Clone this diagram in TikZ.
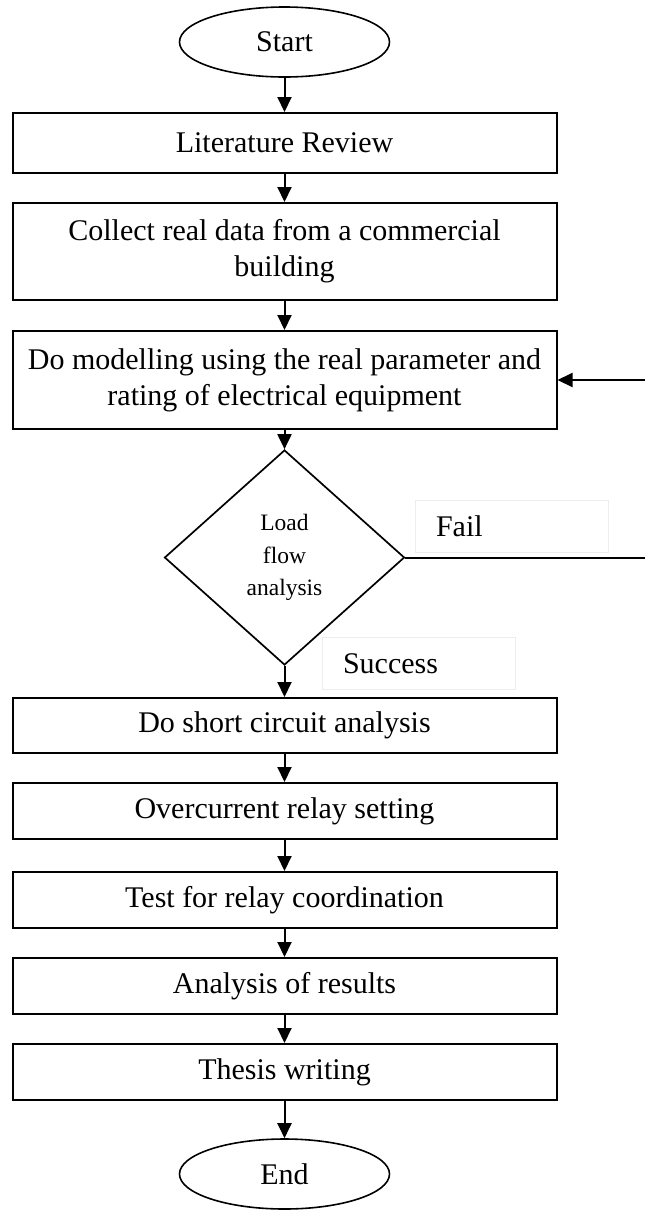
\documentclass[tikz,border=0pt]{standalone}
\usepackage{fontspec}
\setmainfont{Liberation Serif}
\usetikzlibrary{shapes.geometric,arrows.meta}

\tikzset{
  base/.style={draw=black, line width=2pt, inner sep=0pt, align=center,
    font=\fontsize{30}{36}\selectfont},
  terminal/.style={base, ellipse, line width=1.6pt, minimum width=210pt, minimum height=70pt},
  process/.style={base, rectangle, minimum width=544pt},
  decision/.style={base, diamond, line width=1.7pt, minimum width=240pt, minimum height=215pt,
    font=\fontsize{23.5}{32.5}\selectfont},
  tag/.style={draw=black!7, line width=0.8pt, rectangle, minimum width=193pt,
    minimum height=52pt, text width=151pt, inner xsep=21pt, inner ysep=0pt, align=left,
    font=\fontsize{30}{36}\selectfont},
  flow/.style={line width=2pt, -{Triangle[length=15pt,width=14pt]}},
  link/.style={line width=2pt}
}

\begin{document}
\begin{tikzpicture}[x=1pt,y=-1pt]
  \useasboundingbox (0,0) rectangle (645,1211);

  % main column
  \node[terminal] (start) at (284.5,42) {Start};
  \node[process, minimum height=60pt] (lit) at (284.5,143) {Literature Review};
  \node[process, minimum height=97pt] (data) at (284.5,251.5)
    {Collect real data from a commercial\\building};
  \node[process, minimum height=98pt] (model) at (284.5,380)
    {Do modelling using the real parameter and\\rating of electrical equipment};
  \node[decision] (lf) at (284.5,557.5) {Load\\flow\\analysis};
  \node[process, minimum height=55pt] (sc) at (284.5,725.5) {Do short circuit analysis};
  \node[process, minimum height=56pt] (oc) at (284.5,811) {Overcurrent relay setting};
  \node[process, minimum height=56pt] (coord) at (284.5,900) {Test for relay coordination};
  \node[process, minimum height=56pt] (res) at (284.5,986) {Analysis of results};
  \node[process, minimum height=56pt] (thesis) at (284.5,1072) {Thesis writing};
  \node[terminal] (end) at (284.5,1174) {End};

  % branch labels
  \node[tag] (fail) at (511.5,526) {Fail};
  \node[tag] (ok) at (418.5,663.5) {Success};

  % free ends of the loop back at the right edge
  \coordinate (failend) at (645,557.5);
  \coordinate (loopin) at (645,380);

  % connectors
  \draw[flow] (start) -- (lit);
  \draw[flow] (lit) -- (data);
  \draw[flow] (data) -- (model);
  \draw[flow] (model) -- (lf);
  \draw[flow] (lf) -- (sc);
  \draw[flow] (sc) -- (oc);
  \draw[flow] (oc) -- (coord);
  \draw[flow] (coord) -- (res);
  \draw[flow] (res) -- (thesis);
  \draw[flow] (thesis) -- (end);
  \draw[link] (lf.east) -- (failend);
  \draw[flow] (loopin) -- (model.east);
\end{tikzpicture}
\end{document}
